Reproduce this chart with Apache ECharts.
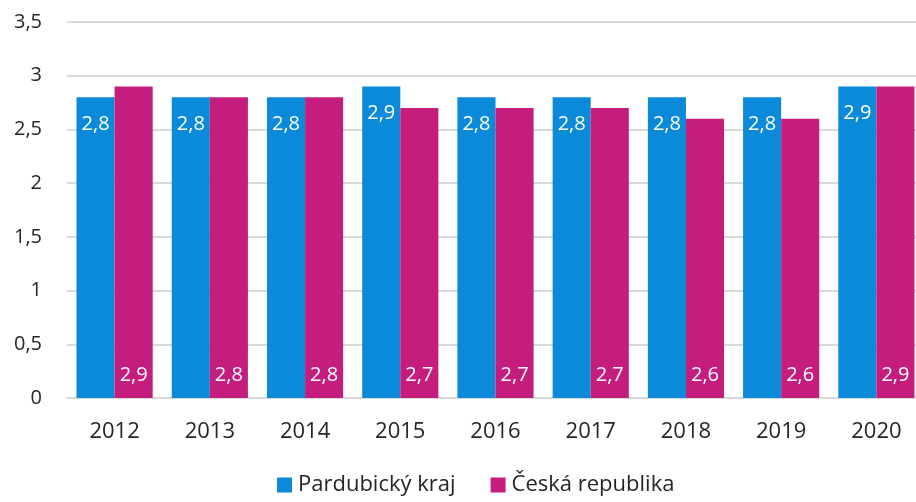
<!DOCTYPE html>
<html>
<head>
<meta charset="utf-8">
<script src="https://cdn.jsdelivr.net/npm/echarts@6/dist/echarts.min.js"></script>
<style>
  html, body { margin: 0; padding: 0; background: #fff; }
  #chart { width: 916px; height: 502px; }
</style>
</head>
<body>
<div id="chart"></div>
<script>
// roky a hodnoty
var years = ['2012', '2013', '2014', '2015', '2016', '2017', '2018', '2019', '2020'];
var pardubicky = [2.8, 2.8, 2.8, 2.9, 2.8, 2.8, 2.8, 2.8, 2.9];
var cesko = [2.9, 2.8, 2.8, 2.7, 2.7, 2.7, 2.6, 2.6, 2.9];
var seriesNames = ['Pardubický kraj', 'Česká republika'];

var font = '"Open Sans", "Noto Sans", sans-serif';

function czNum(v) {
    return String(v).replace('.', ',');
}

var chart = echarts.init(document.getElementById('chart'));
var option = {
    animation: false,
    textStyle: { fontFamily: font },
    grid: {
        left: 67,
        width: 857,
        top: 22,
        bottom: 104,
        outerBoundsMode: 'none'
    },
    legend: {
        data: seriesNames,
        bottom: 1,
        left: 272,
        icon: 'rect',
        itemWidth: 15,
        itemHeight: 15,
        itemGap: 35,
        textStyle: { fontSize: 22, color: '#262626', fontFamily: font, padding: [0, 0, 0, 1] }
    },
    xAxis: {
        type: 'category',
        data: years,
        axisLine: { lineStyle: { color: '#d9d9d9', width: 2 } },
        axisTick: { show: false },
        axisLabel: { fontSize: 22, color: '#262626', margin: 23, fontFamily: font }
    },
    yAxis: {
        type: 'value',
        min: 0,
        max: 3.5,
        interval: 0.5,
        axisLine: { show: false },
        axisTick: { show: false },
        splitLine: { lineStyle: { color: '#d9d9d9', width: 2 } },
        axisLabel: {
            fontSize: 20,
            color: '#262626',
            margin: 25,
            fontFamily: font,
            formatter: function (v) { return czNum(v); }
        }
    },
    series: [{
        name: seriesNames[0],
        type: 'bar',
        data: pardubicky,
        barCategoryGap: '20%',
        barGap: '0%',
        itemStyle: { color: '#0a8ad8' },
        label: {
            show: true,
            position: 'insideTop',
            distance: 17,
            color: '#fff',
            fontSize: 20,
            fontFamily: font,
            formatter: function (p) { return czNum(p.value); }
        }
    }, {
        name: seriesNames[1],
        type: 'bar',
        data: cesko,
        barCategoryGap: '20%',
        barGap: '0%',
        itemStyle: { color: '#c51d7e' },
        label: {
            show: true,
            position: 'insideBottom',
            distance: 13,
            color: '#fff',
            fontSize: 20,
            fontFamily: font,
            formatter: function (p) { return czNum(p.value); }
        }
    }]
};
chart.setOption(option);
</script>
</body>
</html>
